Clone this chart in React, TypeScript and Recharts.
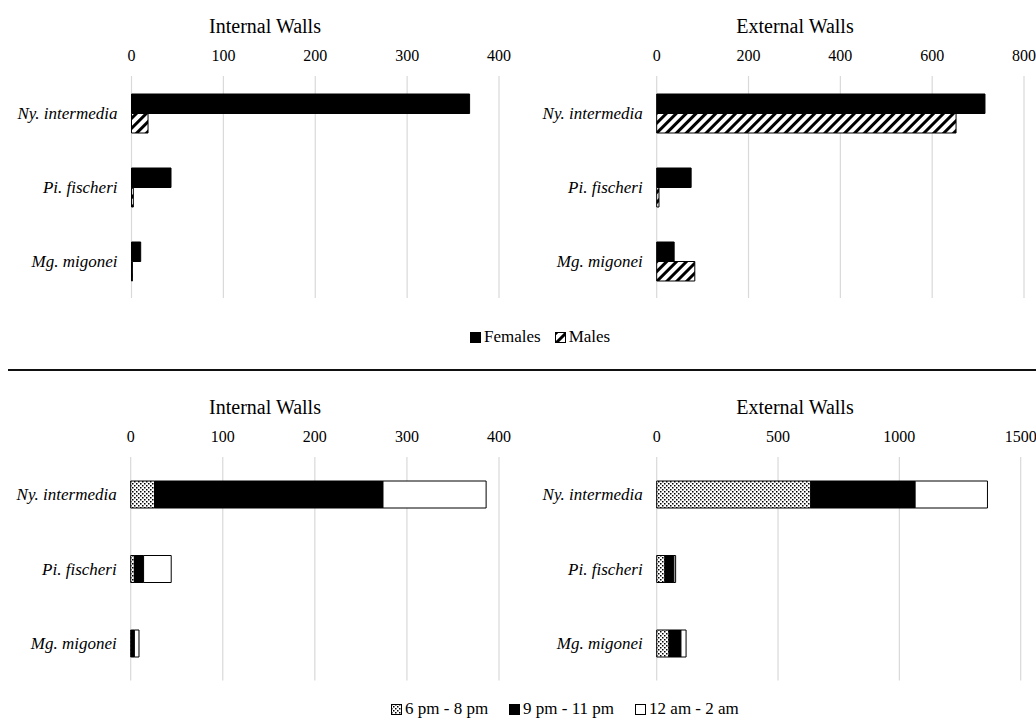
import React from 'react';
import { BarChart, Bar, XAxis, YAxis, CartesianGrid } from 'recharts';

const species = ['Ny. intermedia', 'Pi. fischeri', 'Mg. migonei'];

// top panel: by sex
const internalFemales = [368, 43, 10];
const internalMales = [18, 2, 1];
const externalFemales = [715, 75, 38];
const externalMales = [652, 5, 83];

// bottom panel: by time of night
const internalEarly = [26, 4, 1];
const internalMid = [248, 10, 3];
const internalLate = [112, 30, 5];
const externalEarly = [635, 34, 51];
const externalMid = [430, 37, 49];
const externalLate = [298, 7, 21];

const internalTicks = [0, 100, 200, 300, 400];
const externalSexTicks = [0, 200, 400, 600, 800];
const externalTimeTicks = [0, 500, 1000, 1500];

const FONT = '"Liberation Serif", "Times New Roman", serif';
const GRID = '#d9d9d9';

const sexRows = (f: number[], m: number[]) =>
  species.map((name, i) => ({ name, females: f[i], males: m[i] }));

const timeRows = (a: number[], b: number[], c: number[]) =>
  species.map((name, i) => ({ name, early: a[i], mid: b[i], late: c[i] }));

const Title = ({ text, left, top, width }: { text: string; left: number; top: number; width: number }) => (
  <div
    style={{
      position: 'absolute',
      left,
      top,
      width,
      textAlign: 'center',
      fontSize: 20,
      lineHeight: '22px',
    }}
  >
    {text}
  </div>
);

const axisTick = { fill: '#000', fontSize: 16 };
const speciesTick = { fill: '#000', fontSize: 17, fontStyle: 'italic' };

function Axes({ ticks, yWidth }: { ticks: number[]; yWidth: number }) {
  return (
    <>
      <CartesianGrid horizontal={false} stroke={GRID} strokeWidth={1.2} />
      <XAxis
        type="number"
        orientation="top"
        domain={[ticks[0], ticks[ticks.length - 1]]}
        ticks={ticks}
        axisLine={false}
        tickLine={false}
        tick={axisTick}
        tickMargin={9}
        height={46}
        interval={0}
      />
      <YAxis
        type="category"
        dataKey="name"
        width={yWidth}
        axisLine={false}
        tickLine={false}
        tick={speciesTick}
        tickMargin={8}
      />
    </>
  );
}

const LegendItem = ({ fill, label, gap }: { fill: string; label: string; gap: number }) => (
  <span style={{ display: 'inline-flex', alignItems: 'center', marginRight: gap }}>
    <svg width={11} height={11} style={{ marginRight: 3 }}>
      <rect x={0.5} y={0.5} width={10} height={10} fill={fill} stroke="#000" strokeWidth={1} />
    </svg>
    {label}
  </span>
);

export default function App() {
  const internalSex = sexRows(internalFemales, internalMales);
  const externalSex = sexRows(externalFemales, externalMales);
  const internalTime = timeRows(internalEarly, internalMid, internalLate);
  const externalTime = timeRows(externalEarly, externalMid, externalLate);

  return (
    <div
      style={{
        position: 'absolute',
        left: 0,
        top: 0,
        width: 1036,
        height: 718,
        overflow: 'hidden',
        background: '#fff',
        fontFamily: FONT,
        color: '#000',
      }}
    >
      <style>{`.recharts-wrapper, .recharts-wrapper text, .recharts-text { font-family: "Liberation Serif", "Times New Roman", serif !important; }`}</style>
      <svg width={0} height={0} style={{ position: 'absolute' }}>
        <defs>
          <pattern id="hatch" patternUnits="userSpaceOnUse" width={7} height={7} patternTransform="rotate(45)">
            <rect width={7} height={7} fill="#fff" />
            <rect width={3} height={7} fill="#000" />
          </pattern>
          <pattern id="dots" patternUnits="userSpaceOnUse" width={4} height={4}>
            <rect width={4} height={4} fill="#fff" />
            <rect x={0} y={0} width={1.5} height={1.5} fill="#000" />
            <rect x={2} y={2} width={1.5} height={1.5} fill="#000" />
          </pattern>
        </defs>
      </svg>

      <Title text="Internal Walls" left={0} top={15} width={530} />
      <Title text="External Walls" left={530} top={15} width={530} />

      <div style={{ position: 'absolute', left: 0, top: 30 }}>
        <BarChart
          width={520}
          height={268}
          data={internalSex}
          layout="vertical"
          margin={{ top: 0, right: 21, bottom: 0, left: 0 }}
          barGap={0}
          barSize={19.5}
        >
          <Axes ticks={internalTicks} yWidth={131.5} />
          <Bar dataKey="females" fill="#000" stroke="#000" strokeWidth={1} isAnimationActive={false} />
          <Bar dataKey="males" fill="url(#hatch)" stroke="#000" strokeWidth={1} isAnimationActive={false} />
        </BarChart>
      </div>

      <div style={{ position: 'absolute', left: 520, top: 30 }}>
        <BarChart
          width={516}
          height={268}
          data={externalSex}
          layout="vertical"
          margin={{ top: 0, right: 12, bottom: 0, left: 0 }}
          barGap={0}
          barSize={19.5}
        >
          <Axes ticks={externalSexTicks} yWidth={136.7} />
          <Bar dataKey="females" fill="#000" stroke="#000" strokeWidth={1} isAnimationActive={false} />
          <Bar dataKey="males" fill="url(#hatch)" stroke="#000" strokeWidth={1} isAnimationActive={false} />
        </BarChart>
      </div>

      <div
        style={{
          position: 'absolute',
          left: 470,
          top: 326,
          fontSize: 17,
          lineHeight: '22px',
          whiteSpace: 'nowrap',
          display: 'flex',
        }}
      >
        <LegendItem fill="#000" label="Females" gap={14} />
        <LegendItem fill="url(#hatch)" label="Males" gap={0} />
      </div>

      <div style={{ position: 'absolute', left: 8, top: 369, width: 1028, height: 2, background: '#111' }} />

      <Title text="Internal Walls" left={0} top={396} width={530} />
      <Title text="External Walls" left={530} top={396} width={530} />

      <div style={{ position: 'absolute', left: 0, top: 411 }}>
        <BarChart
          width={520}
          height={269.5}
          data={internalTime}
          layout="vertical"
          margin={{ top: 0, right: 21, bottom: 0, left: 0 }}
          barSize={27}
        >
          <Axes ticks={internalTicks} yWidth={130.7} />
          <Bar dataKey="early" stackId="t" fill="url(#dots)" stroke="#000" strokeWidth={1} isAnimationActive={false} />
          <Bar dataKey="mid" stackId="t" fill="#000" stroke="#000" strokeWidth={1} isAnimationActive={false} />
          <Bar dataKey="late" stackId="t" fill="#fff" stroke="#000" strokeWidth={1} isAnimationActive={false} />
        </BarChart>
      </div>

      <div style={{ position: 'absolute', left: 520, top: 411 }}>
        <BarChart
          width={516}
          height={269.5}
          data={externalTime}
          layout="vertical"
          margin={{ top: 0, right: 15.3, bottom: 0, left: 0 }}
          barSize={27}
        >
          <Axes ticks={externalTimeTicks} yWidth={136.7} />
          <Bar dataKey="early" stackId="t" fill="url(#dots)" stroke="#000" strokeWidth={1} isAnimationActive={false} />
          <Bar dataKey="mid" stackId="t" fill="#000" stroke="#000" strokeWidth={1} isAnimationActive={false} />
          <Bar dataKey="late" stackId="t" fill="#fff" stroke="#000" strokeWidth={1} isAnimationActive={false} />
        </BarChart>
      </div>

      <div
        style={{
          position: 'absolute',
          left: 391,
          top: 698,
          fontSize: 17,
          lineHeight: '22px',
          whiteSpace: 'nowrap',
          display: 'flex',
        }}
      >
        <LegendItem fill="url(#dots)" label="6 pm - 8 pm" gap={21} />
        <LegendItem fill="#000" label="9 pm - 11 pm" gap={21} />
        <LegendItem fill="#fff" label="12 am - 2 am" gap={0} />
      </div>
    </div>
  );
}
